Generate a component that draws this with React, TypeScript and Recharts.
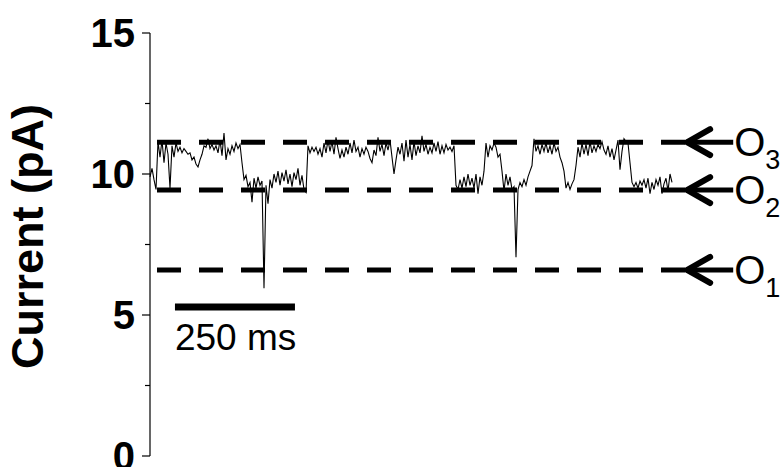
import React from 'react';
import { LineChart, Line, XAxis, YAxis, ReferenceLine } from 'recharts';

const FONT = '"Liberation Sans", Arial, Helvetica, sans-serif';

// sampling: one sample every 250/60 ms
const SAMPLE_MS = 250 / 60;

const TRACE_PA = [
  9.9, 10.2, 9.8, 9.45, 11.15, 10.6, 11.2, 10.4, 11.1, 10.7,
  9.5, 11.0, 10.6, 11.1, 10.8, 10.95, 10.75, 10.9, 10.8, 10.7,
  10.75, 10.5, 10.6, 10.35, 10.25, 10.5, 10.7, 11.0, 10.95, 11.25,
  10.9, 11.05, 10.85, 11.0, 10.75, 11.2, 10.65, 11.45, 10.5, 10.9,
  10.7, 11.0, 10.8, 11.1, 10.9, 11.05, 10.4, 9.8, 9.95, 9.55,
  9.7, 9.0, 9.85, 9.5, 9.9, 9.6, 9.75, 5.95, 9.6, 8.95,
  9.8, 9.5, 10.0, 9.7, 10.1, 9.6, 10.05, 9.75, 10.15, 9.65,
  10.0, 9.55, 10.05, 9.8, 10.2, 9.6, 9.95, 9.45, 9.35, 11.0,
  10.75, 10.95, 10.8, 10.95, 10.7, 10.9, 10.6, 11.1, 10.75, 11.2,
  10.8, 11.15, 10.7, 11.3, 10.9, 10.55, 10.85, 10.6, 10.95, 10.7,
  11.1, 10.75, 11.2, 10.8, 10.95, 10.6, 10.9, 10.7, 10.95, 10.8,
  10.55, 10.4, 10.85, 10.65, 11.3, 10.8, 11.05, 10.65, 11.1, 10.85,
  11.2, 10.6, 10.0, 10.5, 10.95, 10.7, 11.1, 10.45, 11.2, 10.6,
  11.05, 10.5, 11.15, 10.65, 11.0, 10.75, 11.35, 10.8, 11.05, 10.7,
  10.95, 10.75, 11.1, 10.8, 11.15, 10.7, 11.0, 10.75, 11.05, 10.85,
  10.95, 10.8, 11.0, 9.6, 9.45, 9.8, 9.5, 9.9, 9.55, 10.0,
  9.6, 9.85, 9.5, 10.0, 9.3, 9.9, 9.6, 10.1, 11.1, 10.6,
  11.0, 10.85, 11.1, 10.95, 10.6, 10.7, 10.1, 9.4, 10.0, 9.6,
  9.9, 9.45, 9.55, 7.05, 9.45, 9.7, 9.55, 9.8, 9.6, 9.9,
  10.1, 10.3, 11.25, 10.8, 11.0, 10.7, 11.05, 10.8, 11.1, 10.75,
  11.0, 10.7, 11.1, 10.8, 10.95, 10.6, 10.4, 10.1, 9.5, 9.7,
  9.45, 9.65, 9.8, 10.3, 10.95, 10.6, 11.1, 10.7, 11.05, 10.65,
  11.15, 10.75, 11.0, 10.8, 11.05, 10.9, 11.15, 10.85, 10.7, 11.0,
  10.6, 10.9, 10.5, 10.85, 11.2, 10.15, 10.8, 11.25, 11.15, 11.1,
  10.4, 9.7, 9.55, 9.7, 9.5, 9.75, 9.6, 9.8, 9.5, 9.85,
  9.3, 9.7, 9.45, 9.8, 9.6, 9.9, 9.3, 9.65, 9.85, 9.4, 10.0, 9.7,
];

const Y_TICKS = [0, 2.5, 5, 7.5, 10, 12.5, 15];
const Y_MAJOR_TICKS = [0, 5, 10, 15];
const Y_DOMAIN = [0, 15];
const X_DOMAIN = [0, 1250];
const Y_LABEL = 'Current (pA)';

const LEVEL_LETTERS = ['O', 'O', 'O'];
const LEVEL_SUBS = ['1', '2', '3'];
const LEVEL_PA = [6.6, 9.43, 11.13];
const DASH_START_MS = 14.6;
const DASH_END_MS = 1114.6;
const ARROW_START_MS = 1117;
const ARROW_END_MS = 1215;

const SCALE_BAR_MS = [52, 302];
const SCALE_BAR_PA = 5.28;
const SCALE_BAR_LABEL = '250 ms';

const TICK_SIZE = 8;
const TICK_MARGIN = 7;

const data = TRACE_PA.map((v, i) => ({ t: i * SAMPLE_MS, v }));

const renderTick = (props: any) => {
  const { x, y, payload } = props;
  const v = payload.value;
  const major = Y_MAJOR_TICKS.includes(v);
  const axisX = x + TICK_SIZE + TICK_MARGIN;
  const len = major ? 8 : 5;
  return (
    <g>
      <line x1={axisX - len} x2={axisX} y1={y} y2={y} stroke="#000" strokeWidth={1.2} />
      {major && (
        <text
          x={x}
          y={y}
          dy="0.36em"
          textAnchor="end"
          fontSize={40}
          fontWeight="bold"
          fontFamily={FONT}
          fill="#000"
        >
          {v}
        </text>
      )}
    </g>
  );
};

const renderYLabel = (props: any) => {
  const vb = props.viewBox || {};
  const cx = (vb.x ?? 0) + 43;
  const cy = (vb.y ?? 0) + (vb.height ?? 0) / 2 - 8;
  return (
    <text
      x={cx}
      y={cy}
      textAnchor="middle"
      transform={`rotate(-90, ${cx}, ${cy})`}
      fontSize={45}
      fontWeight="bold"
      fontFamily={FONT}
      fill="#000"
    >
      {Y_LABEL}
    </text>
  );
};

const makeArrowLabel = (letter: string, sub: string) => (props: any) => {
  const vb = props.viewBox || {};
  const x0 = vb.x ?? 0;
  const y0 = vb.y ?? 0;
  const w = vb.width ?? 0;
  return (
    <g>
      <polyline
        points={`${x0 + 24},${y0 - 13} ${x0 + 1},${y0} ${x0 + 24},${y0 + 13}`}
        fill="none"
        stroke="#000"
        strokeWidth={6}
        strokeLinejoin="miter"
        strokeLinecap="round"
      />
      <text x={x0 + w + 1} y={y0 + 14} fontSize={40} fontFamily={FONT} fill="#000">
        {letter}
        <tspan fontSize={27} dy={13}>
          {sub}
        </tspan>
      </text>
    </g>
  );
};

const renderScaleLabel = (props: any) => {
  const vb = props.viewBox || {};
  return (
    <text x={(vb.x ?? 0)} y={(vb.y ?? 0) + 43} fontSize={37} fontFamily={FONT} fill="#000">
      {SCALE_BAR_LABEL}
    </text>
  );
};

export default function App() {
  return (
    <div style={{ position: 'absolute', left: 0, top: 0, width: 783, height: 467, background: '#fff' }}>
      <LineChart width={783} height={467} data={data} margin={{ top: 33, right: 33, bottom: 11, left: 0 }}>
        <XAxis type="number" dataKey="t" domain={X_DOMAIN} hide />
        <YAxis
          type="number"
          domain={Y_DOMAIN}
          ticks={Y_TICKS}
          interval={0}
          width={150}
          tickSize={TICK_SIZE}
          tickMargin={TICK_MARGIN}
          tickLine={false}
          axisLine={{ stroke: '#000', strokeWidth: 1.2 }}
          tick={renderTick}
          label={renderYLabel}
        />
        {LEVEL_PA.map((lv, i) => (
          <ReferenceLine
            key={`dash-${i}`}
            segment={[
              { x: DASH_START_MS, y: lv },
              { x: DASH_END_MS, y: lv },
            ]}
            stroke="#000"
            strokeWidth={5}
            strokeDasharray="24 18"
          />
        ))}
        {LEVEL_PA.map((lv, i) => (
          <ReferenceLine
            key={`arrow-${i}`}
            segment={[
              { x: ARROW_START_MS, y: lv },
              { x: ARROW_END_MS, y: lv },
            ]}
            stroke="#000"
            strokeWidth={5}
            label={makeArrowLabel(LEVEL_LETTERS[i], LEVEL_SUBS[i])}
          />
        ))}
        <ReferenceLine
          segment={[
            { x: SCALE_BAR_MS[0], y: SCALE_BAR_PA },
            { x: SCALE_BAR_MS[1], y: SCALE_BAR_PA },
          ]}
          stroke="#000"
          strokeWidth={7}
          label={renderScaleLabel}
        />
        <Line
          type="linear"
          dataKey="v"
          stroke="#000"
          strokeWidth={1.1}
          dot={false}
          isAnimationActive={false}
        />
      </LineChart>
    </div>
  );
}
